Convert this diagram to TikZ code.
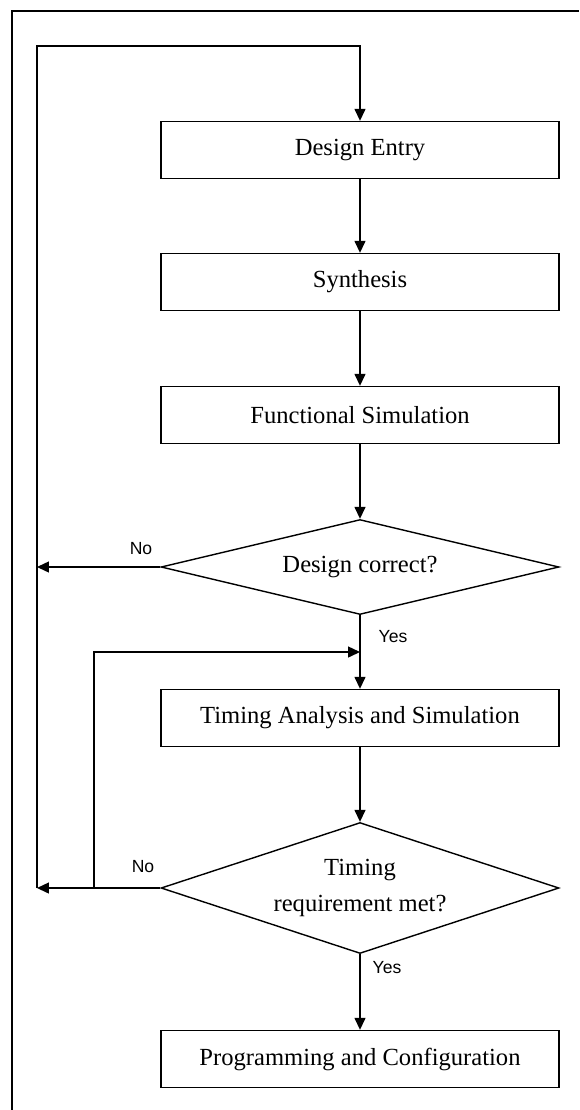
\documentclass[tikz,border=0pt]{standalone}
\usepackage{fontspec}
\setmainfont{Liberation Serif}
\newfontfamily\sansfont{Liberation Sans}
\usetikzlibrary{shapes.geometric,arrows.meta}

\begin{document}
\begin{tikzpicture}[x=0.02cm, y=-0.02cm, line width=0.8pt]
			\tikzset{bloc/.style={rectangle, draw=black, minimum width=7.96cm, minimum height=1.14cm, font=\fontsize{14}{20}\selectfont},
			losange/.style={diamond, draw=black, inner sep=0pt, minimum width=7.96cm, align=center, font=\fontsize{14}{20}\selectfont},
			etiq/.style={font=\sansfont\fontsize{10}{12}\selectfont},
			fleche/.style={-{Triangle[length=0.24cm, width=0.22cm]}}};

			\useasboundingbox (0,0) rectangle (579,1110);
			\draw[line width=1.3pt] (12,1110) |- (579,11);

			\node[bloc] (de) at (360,  150) {Design Entry};
			\node[bloc] (sy) at (360,  282) {Synthesis};
			\node[bloc] (fs) at (360,  415) {Functional Simulation};
			\node[losange, aspect=4.19, minimum height=1.9cm] (dc) at (360, 567) {Design correct?};
			\node[bloc] (ta) at (360,  718) {Timing Analysis and Simulation};
			\node[losange, aspect=3.04, minimum height=2.62cm] (tr) at (360, 888) {Timing\\requirement met?};
			\node[bloc] (pc) at (360, 1059) {Programming and Configuration};

			\node[etiq] (no1)  at (141, 549) {No};
			\node[etiq] (yes1) at (393, 637) {Yes};
			\node[etiq] (no2)  at (143, 867) {No};
			\node[etiq] (yes2) at (387, 968) {Yes};

			\coordinate (g1) at ( 37, 567);
			\coordinate (g2) at ( 37, 888);
			\coordinate (h)  at ( 37,  46);
			\coordinate (i)  at ( 94, 888);
			\coordinate (j)  at (360, 652);

			\draw[fleche] (de) -- (sy);
			\draw[fleche] (sy) -- (fs);
			\draw[fleche] (fs) -- (dc);
			\draw[fleche] (dc) -- (ta);
			\draw[fleche] (ta) -- (tr);
			\draw[fleche] (tr) -- (pc);

			\draw[fleche] (dc.west) -- (g1);
			\draw[fleche] (tr.west) -- (g2);
			\draw[fleche] (g2) -- (h) -| (de.north);
			\draw[fleche] (i) |- (j);

		\end{tikzpicture}
\end{document}
